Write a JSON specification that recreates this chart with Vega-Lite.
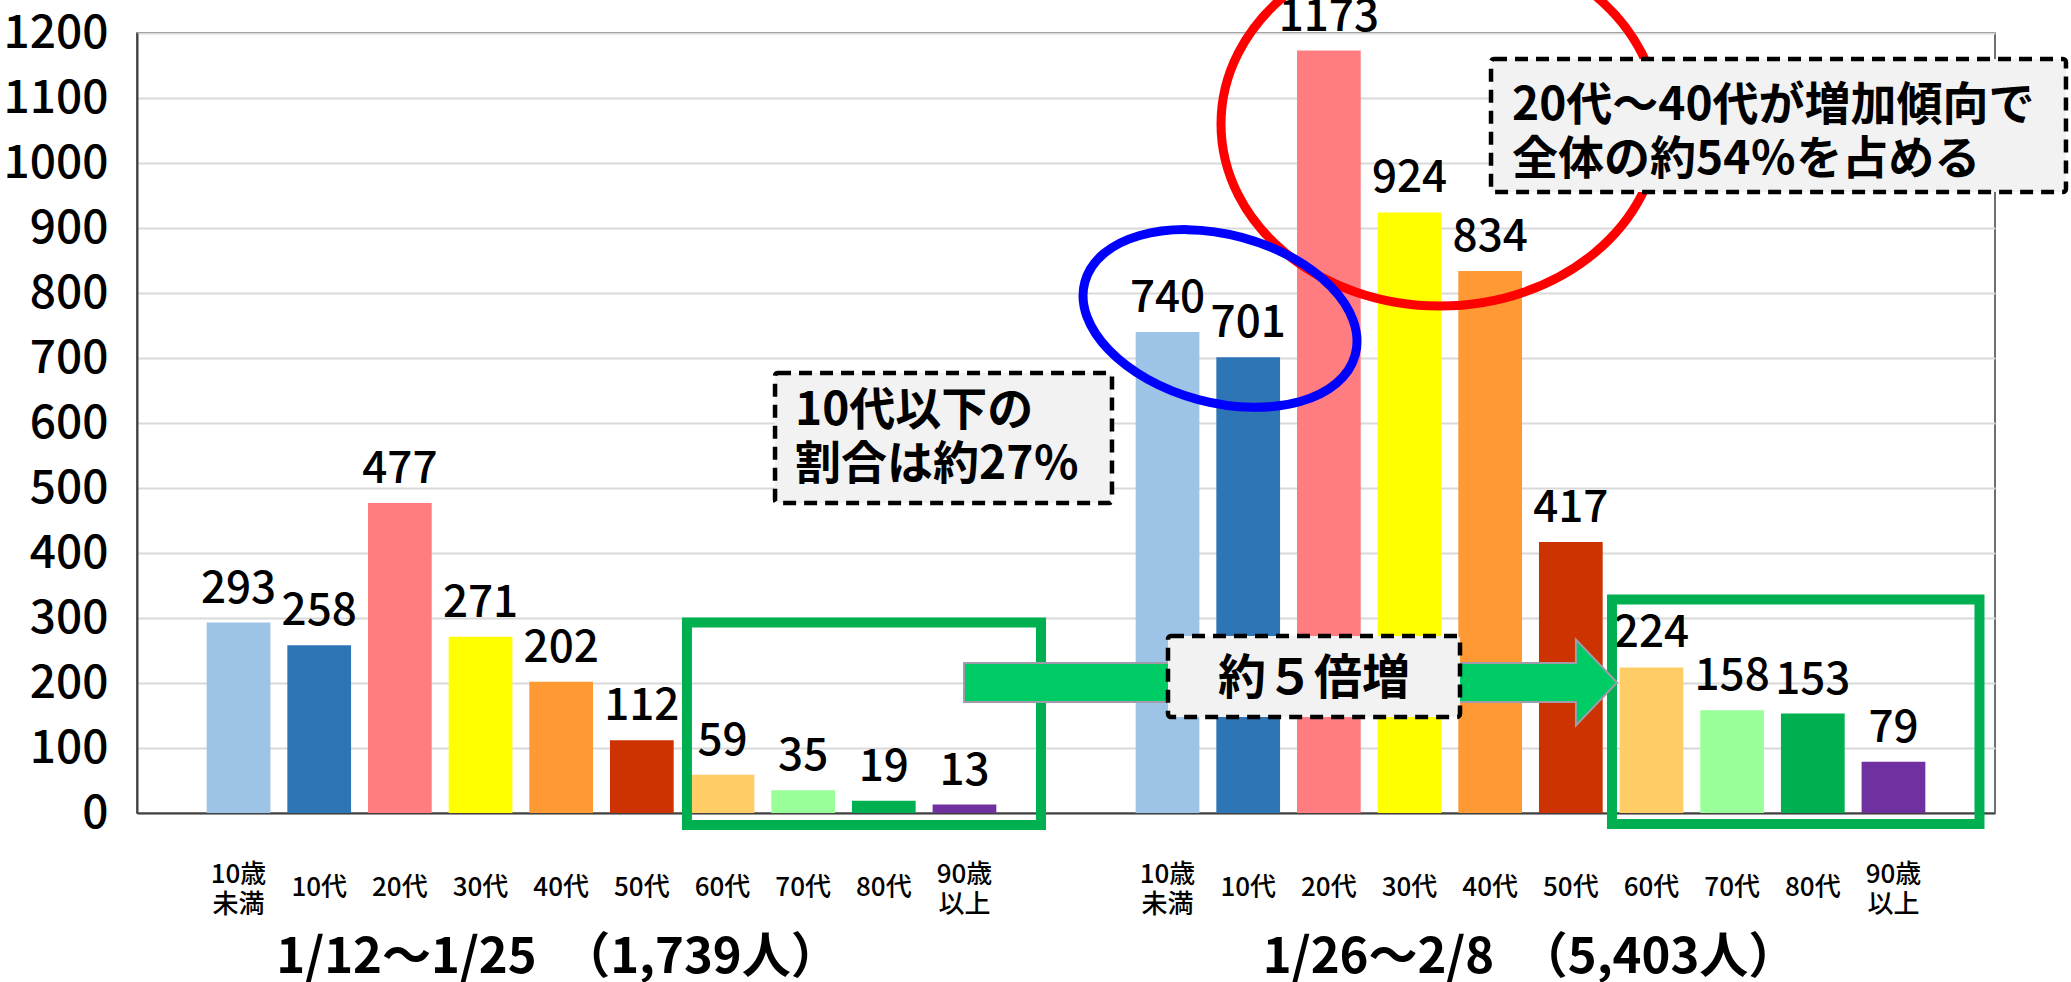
{
  "$schema": "https://vega.github.io/schema/vega-lite/v6.json",
  "width": 1858,
  "height": 780,
  "autosize": {"type": "none"},
  "padding": {"left": 137, "top": 33, "right": 76, "bottom": 169},
  "background": "white",
  "config": {
    "view": {"stroke": "#404040", "strokeWidth": 1.5},
    "font": "Noto Sans CJK JP"
  },
  "data": {
    "values": [
      {"period": "1/12～1/25", "age": "10歳\n未満", "count": 293},
      {"period": "1/12～1/25", "age": "10代", "count": 258},
      {"period": "1/12～1/25", "age": "20代", "count": 477},
      {"period": "1/12～1/25", "age": "30代", "count": 271},
      {"period": "1/12～1/25", "age": "40代", "count": 202},
      {"period": "1/12～1/25", "age": "50代", "count": 112},
      {"period": "1/12～1/25", "age": "60代", "count": 59},
      {"period": "1/12～1/25", "age": "70代", "count": 35},
      {"period": "1/12～1/25", "age": "80代", "count": 19},
      {"period": "1/12～1/25", "age": "90歳\n以上", "count": 13},
      {"period": "1/26～2/8", "age": "10歳\n未満", "count": 740},
      {"period": "1/26～2/8", "age": "10代", "count": 701},
      {"period": "1/26～2/8", "age": "20代", "count": 1173},
      {"period": "1/26～2/8", "age": "30代", "count": 924},
      {"period": "1/26～2/8", "age": "40代", "count": 834},
      {"period": "1/26～2/8", "age": "50代", "count": 417},
      {"period": "1/26～2/8", "age": "60代", "count": 224},
      {"period": "1/26～2/8", "age": "70代", "count": 158},
      {"period": "1/26～2/8", "age": "80代", "count": 153},
      {"period": "1/26～2/8", "age": "90歳\n以上", "count": 79}
    ]
  },
  "layer": [
    {
      "encoding": {
        "x": {
          "field": "period", "type": "nominal", "sort": ["1/12～1/25", "1/26～2/8"],
          "scale": {"paddingInner": 0.15, "paddingOuter": 0.075},
          "axis": {"labels": false, "ticks": false, "title": null, "domain": true, "domainColor": "#404040", "domainWidth": 2, "grid": false}
        },
        "xOffset": {
          "field": "age", "type": "nominal",
          "sort": ["10歳\n未満", "10代", "20代", "30代", "40代", "50代", "60代", "70代", "80代", "90歳\n以上"],
          "scale": {"paddingInner": 0.21, "paddingOuter": 0}
        }
      },
      "layer": [
        {
          "mark": {"type": "bar"},
          "encoding": {
            "y": {
              "field": "count", "type": "quantitative",
              "scale": {"domain": [0, 1200], "nice": false, "zero": true},
              "axis": {
                "title": null, "values": [0, 100, 200, 300, 400, 500, 600, 700, 800, 900, 1000, 1100, 1200],
                "format": "d",
                "ticks": false, "tickSize": 0, "labelPadding": 29, "labelFontSize": 46, "labelFontWeight": 500,
                "labelFont": "Noto Sans CJK JP", "labelColor": "#000000",
                "domain": true, "domainColor": "#404040", "domainWidth": 2,
                "grid": true, "gridColor": "#d9d9d9", "gridWidth": 2
              }
            },
            "color": {
              "field": "age", "type": "nominal", "legend": null,
              "scale": {
                "domain": ["10歳\n未満", "10代", "20代", "30代", "40代", "50代", "60代", "70代", "80代", "90歳\n以上"],
                "range": ["#9DC3E6", "#2E75B6", "#FF7C80", "#FFFF00", "#FF9933", "#CC3300", "#FFCC66", "#99FF99", "#00B050", "#7030A0"]
              }
            }
          }
        },
        {
          "mark": {"type": "text", "baseline": "alphabetic", "dy": -20, "fontSize": 44, "fontWeight": 500, "font": "Noto Sans CJK JP", "color": "#000000"},
          "encoding": {
            "y": {"field": "count", "type": "quantitative", "scale": {"domain": [0, 1200], "nice": false}},
            "text": {"field": "count", "type": "quantitative"}
          }
        },
        {
          "transform": [{"filter": "indexof(datum.age, '\\n') < 0"}],
          "mark": {"type": "text", "baseline": "middle", "fontSize": 26, "fontWeight": 500, "font": "Noto Sans CJK JP", "color": "#000000"},
          "encoding": {
            "y": {"datum": -115, "type": "quantitative", "scale": {"domain": [0, 1200], "nice": false}},
            "text": {"field": "age", "type": "nominal"}
          }
        },
        {
          "transform": [{"filter": "indexof(datum.age, '\\n') >= 0"}],
          "mark": {"type": "text", "baseline": "middle", "fontSize": 26, "fontWeight": 500, "lineHeight": 30, "lineBreak": "\n", "font": "Noto Sans CJK JP", "color": "#000000"},
          "encoding": {
            "y": {"datum": -95.4, "type": "quantitative", "scale": {"domain": [0, 1200], "nice": false}},
            "text": {"field": "age", "type": "nominal"}
          }
        }
      ]
    },
    {
      "data": {"values": [{}]},
      "layer": [
        {
          "mark": {"type": "rect", "filled": false, "stroke": "#00B050", "strokeWidth": 10},
          "encoding": {
            "x": {"datum": 0.592, "type": "quantitative", "scale": {"domain": [0, 2], "nice": false, "zero": false}, "axis": null},
            "x2": {"datum": 0.9731},
            "y": {"datum": 293.1, "type": "quantitative", "scale": {"domain": [0, 1200], "nice": false}},
            "y2": {"datum": -18.5}
          }
        },
        {
          "mark": {"type": "rect", "filled": false, "stroke": "#00B050", "strokeWidth": 10},
          "encoding": {
            "x": {"datum": 1.5877, "type": "quantitative", "scale": {"domain": [0, 2], "nice": false, "zero": false}, "axis": null},
            "x2": {"datum": 1.9833},
            "y": {"datum": 328.5, "type": "quantitative", "scale": {"domain": [0, 1200], "nice": false}},
            "y2": {"datum": -16.9}
          }
        },
        {
          "mark": {"type": "point", "filled": false, "opacity": 1, "stroke": "#FF0000", "strokeWidth": 9, "size": 191844,
            "shape": "M 1 0 C 1 0.459 0.552 0.831 0 0.831 C -0.552 0.831 -1 0.459 -1 0 C -1 -0.459 -0.552 -0.831 0 -0.831 C 0.552 -0.831 1 -0.459 1 0 Z"},
          "encoding": {
            "x": {"datum": 1.4026, "type": "quantitative", "scale": {"domain": [0, 2], "nice": false, "zero": false}, "axis": null},
            "y": {"datum": 1060, "type": "quantitative", "scale": {"domain": [0, 1200], "nice": false}}
          }
        },
        {
          "mark": {"type": "point", "filled": false, "opacity": 1, "stroke": "#0000FF", "strokeWidth": 9, "size": 78400, "angle": 15,
            "shape": "M 1 0 C 1 0.331 0.552 0.6 0 0.6 C -0.552 0.6 -1 0.331 -1 0 C -1 -0.331 -0.552 -0.6 0 -0.6 C 0.552 -0.6 1 -0.331 1 0 Z"},
          "encoding": {
            "x": {"datum": 1.1658, "type": "quantitative", "scale": {"domain": [0, 2], "nice": false, "zero": false}, "axis": null},
            "y": {"datum": 760.8, "type": "quantitative", "scale": {"domain": [0, 1200], "nice": false}}
          }
        },
        {
          "mark": {"type": "point", "filled": true, "opacity": 1, "fill": "#00CC66", "stroke": "#a09aaa", "strokeWidth": 2, "size": 426409,
            "shape": "M -1 -0.0597 L 0.874 -0.0597 L 0.874 -0.1317 L 1 0 L 0.874 0.1317 L 0.874 0.0597 L -1 0.0597 Z"},
          "encoding": {
            "x": {"datum": 1.2417, "type": "quantitative", "scale": {"domain": [0, 2], "nice": false, "zero": false}, "axis": null},
            "y": {"datum": 200.8, "type": "quantitative", "scale": {"domain": [0, 1200], "nice": false}}
          }
        },
        {
          "mark": {"type": "rect", "fill": "#F2F2F2", "stroke": "#000000", "strokeWidth": 4.5, "strokeDash": [13, 8], "cornerRadius": 3},
          "encoding": {
            "x": {"datum": 1.1098, "type": "quantitative", "scale": {"domain": [0, 2], "nice": false, "zero": false}, "axis": null},
            "x2": {"datum": 1.4241},
            "y": {"datum": 272.3, "type": "quantitative", "scale": {"domain": [0, 1200], "nice": false}},
            "y2": {"datum": 147.7}
          }
        },
        {
          "mark": {"type": "rect", "fill": "#F2F2F2", "stroke": "#000000", "strokeWidth": 4.5, "strokeDash": [13, 8], "cornerRadius": 3},
          "encoding": {
            "x": {"datum": 1.4575, "type": "quantitative", "scale": {"domain": [0, 2], "nice": false, "zero": false}, "axis": null},
            "x2": {"datum": 2.0764},
            "y": {"datum": 1160, "type": "quantitative", "scale": {"domain": [0, 1200], "nice": false}},
            "y2": {"datum": 955.4}
          }
        },
        {
          "mark": {"type": "rect", "fill": "#F2F2F2", "stroke": "#000000", "strokeWidth": 4.5, "strokeDash": [13, 8], "cornerRadius": 3},
          "encoding": {
            "x": {"datum": 0.6868, "type": "quantitative", "scale": {"domain": [0, 2], "nice": false, "zero": false}, "axis": null},
            "x2": {"datum": 1.0495},
            "y": {"datum": 676.9, "type": "quantitative", "scale": {"domain": [0, 1200], "nice": false}},
            "y2": {"datum": 476.9}
          }
        },
        {
          "mark": {"type": "text", "text": "約５倍増", "align": "center", "baseline": "alphabetic", "fontSize": 48, "fontWeight": "bold", "font": "Noto Sans CJK JP", "color": "#000000"},
          "encoding": {
            "x": {"datum": 1.267, "type": "quantitative", "scale": {"domain": [0, 2], "nice": false, "zero": false}, "axis": null},
            "y": {"datum": 183.8, "type": "quantitative", "scale": {"domain": [0, 1200], "nice": false}}
          }
        },
        {
          "mark": {"type": "text", "text": ["20代～40代が増加傾向で", "全体の約54％を占める"], "align": "left", "baseline": "alphabetic", "lineHeight": 54, "fontSize": 46, "fontWeight": "bold", "font": "Noto Sans CJK JP", "color": "#000000"},
          "encoding": {
            "x": {"datum": 1.4801, "type": "quantitative", "scale": {"domain": [0, 2], "nice": false, "zero": false}, "axis": null},
            "y": {"datum": 1066.9, "type": "quantitative", "scale": {"domain": [0, 1200], "nice": false}}
          }
        },
        {
          "mark": {"type": "text", "text": ["10代以下の", "割合は約27％"], "align": "left", "baseline": "alphabetic", "lineHeight": 54, "fontSize": 46, "fontWeight": "bold", "font": "Noto Sans CJK JP", "color": "#000000"},
          "encoding": {
            "x": {"datum": 0.7083, "type": "quantitative", "scale": {"domain": [0, 2], "nice": false, "zero": false}, "axis": null},
            "y": {"datum": 596.2, "type": "quantitative", "scale": {"domain": [0, 1200], "nice": false}}
          }
        },
        {
          "mark": {"type": "text", "text": "1/12～1/25　（1,739人）", "align": "center", "baseline": "alphabetic", "fontSize": 49, "fontWeight": "bold", "font": "Noto Sans CJK JP", "color": "#000000"},
          "encoding": {
            "x": {"datum": 0.4532, "type": "quantitative", "scale": {"domain": [0, 2], "nice": false, "zero": false}, "axis": null},
            "y": {"datum": -246.2, "type": "quantitative", "scale": {"domain": [0, 1200], "nice": false}}
          }
        },
        {
          "mark": {"type": "text", "text": "1/26～2/8　（5,403人）", "align": "center", "baseline": "alphabetic", "fontSize": 49, "fontWeight": "bold", "font": "Noto Sans CJK JP", "color": "#000000"},
          "encoding": {
            "x": {"datum": 1.4995, "type": "quantitative", "scale": {"domain": [0, 2], "nice": false, "zero": false}, "axis": null},
            "y": {"datum": -246.2, "type": "quantitative", "scale": {"domain": [0, 1200], "nice": false}}
          }
        }
      ]
    }
  ],
  "resolve": {"scale": {"x": "independent"}}
}
